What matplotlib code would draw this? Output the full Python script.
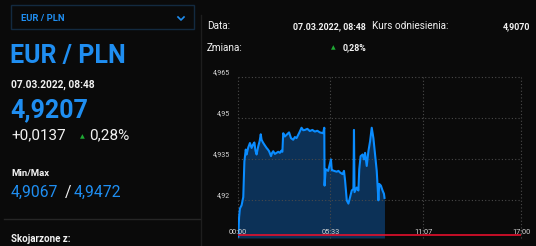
import matplotlib
matplotlib.use("Agg")
import matplotlib.pyplot as plt
from matplotlib.lines import Line2D
from matplotlib.patches import Rectangle

# ---- data ----
minutes = [1, 4, 7, 13, 19, 23, 28, 31, 37, 43, 49, 54, 59, 63, 67, 73, 78, 82, 85, 90, 95,
           103, 108, 112, 119, 123, 127, 133, 139, 145, 151, 156, 160, 163, 169, 175, 184,
           191, 199, 205, 211, 220, 229, 235, 241, 250, 259, 268, 277, 286, 295, 307, 311,
           312, 316, 325, 335, 338, 341, 349, 356, 362, 368, 377, 382, 386, 392,
           398, 404, 410, 416, 418, 420, 428, 434, 437, 442, 449, 454, 458, 464, 470,
           476, 482, 488, 494, 500, 506, 509, 515, 521, 526, 528]
values = [4.9065, 4.9137, 4.9168, 4.9180, 4.9210, 4.9340, 4.9384, 4.9366, 4.9392, 4.9408,
          4.9390, 4.9402, 4.9410, 4.9380, 4.9366, 4.9396, 4.9415, 4.9440, 4.9420, 4.9410,
          4.9402, 4.9390, 4.9384, 4.9378, 4.9360, 4.9372, 4.9378, 4.9368, 4.9372, 4.9376,
          4.9372, 4.9380, 4.9376, 4.9444, 4.9432, 4.9438, 4.9447, 4.9426, 4.9420, 4.9430,
          4.9426, 4.9444, 4.9464, 4.9455, 4.9456, 4.9460, 4.9452, 4.9456, 4.9450, 4.9453,
          4.9447, 4.9444, 4.9464,
          4.9252, 4.9312, 4.9306, 4.9348, 4.9308, 4.9308, 4.9305, 4.9303, 4.9306, 4.9300,
          4.9294, 4.9306, 4.9270, 4.9198, 4.9186, 4.9210, 4.9234, 4.9240, 4.9456, 4.9228,
          4.9245, 4.9234, 4.9312, 4.9360, 4.9366, 4.9348, 4.9372, 4.9324, 4.9378,
          4.9414, 4.9464, 4.9426, 4.9366, 4.9306, 4.9198, 4.9258, 4.9252, 4.9234,
          4.9222, 4.9207]
reference_rate = 4.9070
y_ticks = [4.92, 4.935, 4.95, 4.965]
y_tick_labels = ["4,92", "4,935", "4,95", "4,965"]
x_ticks = [0, 333, 667, 1020]
x_tick_labels = ["00:00", "05:33", "11:07", "17:00"]

W, H = 536, 246
BG = "#0a0a0a"
BLUE = "#1f8ef1"
WHITE = "#f2f2f2"
GREEN = "#1faa34"
FONT = ["Roboto", "DejaVu Sans"]
plt.rcParams["font.family"] = FONT

fig = plt.figure(figsize=(W / 100, H / 100), dpi=100, facecolor=BG)


def P(x, y):
    return (x / W, 1 - y / H)


def txt(x, y, s, size, color=WHITE, weight="normal", ha="left", va="baseline", family=None):
    fig.text(*P(x, y), s, fontsize=size, color=color, fontweight=weight,
             ha=ha, va=va, family=family or FONT)


# ---- left panel ----
fig.add_artist(Rectangle(P(11, 29), 183 / W, 24 / H, transform=fig.transFigure,
                         facecolor="none", edgecolor="#132a40", lw=1))
txt(21, 20.7, "EUR / PLN", 6.8, BLUE, "bold")
fig.add_artist(Line2D([178 / W, 181 / W, 184 / W], [1 - 17 / H, 1 - 20 / H, 1 - 17 / H],
                      transform=fig.transFigure, color=BLUE, lw=1.2))
txt(10, 63, "EUR / PLN", 18, BLUE, "bold")
txt(11, 88, "07.03.2022, 08:48", 7.3, WHITE, "bold")
txt(10, 117, "4,9207", 18, BLUE, "bold")
txt(11, 139.3, "+0,0137", 11, WHITE)
txt(80, 138.6, "▲", 4.5, GREEN, family=["DejaVu Sans"])
txt(89, 139.3, "0,28%", 11, WHITE)
txt(11, 176, "Min/Max", 6.8, WHITE, "bold")
txt(11, 196.7, "4,9067", 11.3, BLUE)
txt(65, 196.7, "/", 11.3, WHITE)
txt(74, 196.7, "4,9472", 11.3, BLUE)
fig.add_artist(Line2D([4 / W, 200 / W], [1 - 219 / H] * 2, transform=fig.transFigure,
                      color="#262626", lw=1))
txt(11, 242.5, "Skojarzone z:", 7, WHITE, "bold")
fig.add_artist(Line2D([201 / W, 201 / W], [1 - 15 / H, 0], transform=fig.transFigure,
                      color="#1e1e1e", lw=1))

# ---- right panel header ----
txt(207, 29, "Data:", 7.2, WHITE)
txt(366, 29, "07.03.2022, 08:48", 6.4, WHITE, "bold", ha="right")
txt(372, 29, "Kurs odniesienia:", 7.2, WHITE)
txt(530, 29, "4,9070", 6.4, WHITE, "bold", ha="right")
txt(207, 50.7, "Zmiana:", 7.2, WHITE)
txt(330.5, 49.5, "▲", 4.3, GREEN, family=["DejaVu Sans"])
txt(366, 50.7, "0,28%", 6.4, WHITE, "bold", ha="right")

# ---- chart ----
left, right, top, bottom = 238, 521, 77, 238
ax = fig.add_axes([left / W, 1 - bottom / H, (right - left) / W, (bottom - top) / H])
ax.set_facecolor("none")
ax.set_xlim(0, 1020)
ax.set_ylim(4.906, 4.965)
ax.fill_between(minutes, values, 4.906, color="#0c3157", lw=0, zorder=1)
ax.plot(minutes, values, color="#0a8cff", lw=1.5, zorder=3, solid_joinstyle="round")
ax.plot([0, 1020], [reference_rate, reference_rate], color="#e5102c", lw=1.2, zorder=4)
ax.set_xticks(x_ticks)
ax.set_yticks(y_ticks)
ax.tick_params(length=0, labelbottom=False, labelleft=False)
ax.grid(True, color="#4a4a4a", linestyle=(0, (1, 2)), lw=0.8, zorder=0)
for gl in ax.get_xgridlines() + ax.get_ygridlines():
    gl.set_clip_on(False)
for s in ax.spines.values():
    s.set_visible(False)

for v, lab in zip(y_ticks, y_tick_labels):
    ax.annotate(lab, xy=(0, v), xycoords=("axes fraction", "data"),
                xytext=(-8, 3), textcoords="offset pixels", ha="right", va="baseline",
                fontsize=5.0, color="#d6d6d6")
for t, lab in zip(x_ticks, x_tick_labels):
    ax.annotate(lab, xy=(t, 0), xycoords=("data", "axes fraction"),
                xytext=(0, 3.7), textcoords="offset pixels", ha="center", va="baseline",
                fontsize=5.3, color="#d6d6d6", zorder=6)

fig.savefig("out.png", dpi=100, facecolor=BG)
